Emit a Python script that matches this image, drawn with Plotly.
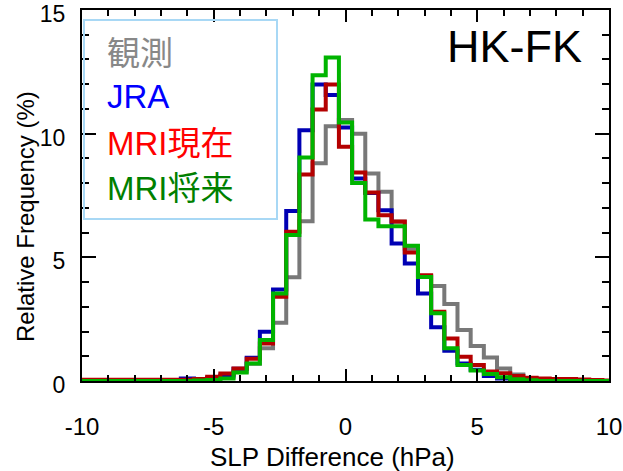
import plotly.graph_objects as go

# Bin centres (hPa)
slp_bins = [-10, -9.5, -9, -8.5, -8, -7.5, -7, -6.5, -6, -5.5, -5, -4.5, -4, -3.5, -3,
            -2.5, -2, -1.5, -1, -0.5, 0, 0.5, 1, 1.5, 2, 2.5, 3, 3.5, 4, 4.5, 5,
            5.5, 6, 6.5, 7, 7.5, 8, 8.5, 9, 9.5, 10]

obs = [0, 0, 0, 0, 0, 0, 0, 0, 0.02, 0.04, 0.08, 0.15, 0.38, 0.7, 1.32,
       2.36, 4.19, 6.46, 8.8, 10.3, 10.55, 10.0, 8.39, 7.65, 6.44, 5.35, 4.25, 3.84, 3.11, 2.06, 1.42,
       0.95, 0.51, 0.26, 0.12, 0.06, 0.03, 0, 0, 0, 0]

jra = [0, 0, 0, 0, 0, 0, 0, 0.02, 0.1, 0.05, 0.12, 0.22, 0.5, 0.94, 1.99,
       3.7, 6.87, 10.14, 11.99, 11.56, 10.25, 8.19, 7.6, 6.9, 5.56, 4.75, 3.54, 2.17, 1.22, 0.71, 0.45,
       0.2, 0.1, 0.05, 0.02, 0, 0, 0, 0, 0, 0]

mri_present = [0.05, 0.05, 0.05, 0.05, 0.05, 0.05, 0.05, 0.05, 0.05, 0.08, 0.17, 0.3, 0.51, 0.9, 1.52,
               3.41, 6.03, 8.35, 10.98, 11.99, 9.47, 8.43, 7.62, 6.7, 6.45, 5.2, 4.28, 2.8, 1.72, 0.98, 0.65,
               0.38, 0.31, 0.2, 0.13, 0.1, 0.08, 0.08, 0.06, 0.04, 0.02]

mri_future = [0, 0, 0, 0, 0, 0, 0, 0, 0, 0.02, 0.04, 0.1, 0.34, 0.71, 1.66,
              3.54, 5.9, 9.04, 12.36, 13.08, 10.45, 8.01, 6.53, 6.26, 6.26, 5.47, 4.21, 2.74, 1.32, 0.65, 0.42,
              0.28, 0.15, 0.07, 0.03, 0, 0, 0, 0, 0, 0]

series_names = ["観測", "JRA", "MRI現在", "MRI将来"]
line_colors = ["#787878", "#0000b4", "#b40000", "#00b400"]
text_colors = ["#888888", "#0000ff", "#ff0000", "#008000"]

x_ticks = [-10, -5, 0, 5, 10]
y_ticks = [0, 5, 10, 15]

FONT = "Liberation Sans, Arial, Noto Sans CJK JP"

# plot area in window pixels
L, R, T, B = 82, 609, 10, 381
W, H = R - L, B - T


def px(x):
    return (x - L) / W


def py(y):
    return (B - y) / H


fig = go.Figure()
for name, vals, col in zip(series_names, [obs, jra, mri_present, mri_future], line_colors):
    fig.add_trace(go.Scatter(x=slp_bins, y=vals, mode="lines", name=name,
                             line=dict(color=col, width=4, shape="hvh")))

fig.update_layout(
    width=623, height=471,
    margin=dict(l=L, r=623 - R, t=T, b=471 - B, autoexpand=False),
    paper_bgcolor="white", plot_bgcolor="white",
    showlegend=False,
    font=dict(family=FONT, size=24, color="black"),
    xaxis=dict(range=[-10, 10], tickvals=x_ticks, ticktext=[str(v) for v in x_ticks],
               ticks="inside", ticklen=12, tickwidth=1.5, tickcolor="black",
               minor=dict(dtick=1, ticks="inside", ticklen=6, tickwidth=1.5, tickcolor="black"),
               showline=True, linecolor="black", linewidth=2, mirror="allticks",
               showgrid=False, zeroline=False, ticklabelstandoff=23,
               ticklabeloverflow="allow", automargin=False,
               tickfont=dict(size=24)),
    yaxis=dict(range=[0, 15.001], tickvals=y_ticks, ticktext=[str(v) for v in y_ticks],
               ticks="inside", ticklen=14, tickwidth=1.5, tickcolor="black",
               minor=dict(dtick=1, ticks="inside", ticklen=7, tickwidth=1.5, tickcolor="black"),
               showline=True, linecolor="black", linewidth=2, mirror="allticks",
               showgrid=False, zeroline=False, ticklabelstandoff=10, ticklabelshift=4,
               ticklabeloverflow="allow", automargin=False,
               tickfont=dict(size=23)),
)

# Axis titles
fig.add_annotation(xref="paper", yref="paper", x=px(332), y=py(457),
                   xanchor="center", yanchor="middle", showarrow=False,
                   text="SLP Difference (hPa)", font=dict(size=26, color="black", family=FONT))
fig.add_annotation(xref="paper", yref="paper", x=px(25), y=py(217),
                   xanchor="center", yanchor="middle", showarrow=False, textangle=-90,
                   text="Relative Frequency (%)", font=dict(size=24, color="black", family=FONT))

# Legend box
fig.add_shape(type="rect", xref="paper", yref="paper",
              x0=px(84), x1=px(277), y0=py(219), y1=py(20),
              line=dict(color="#a8d8f5", width=2), fillcolor="rgba(0,0,0,0)")

legend_y = [53, 97, 143, 188]
for name, col, yy in zip(series_names, text_colors, legend_y):
    fig.add_annotation(xref="paper", yref="paper", x=px(105), y=py(yy),
                       xanchor="left", yanchor="middle", showarrow=False,
                       text=name, font=dict(size=33, color=col, family=FONT))

fig.add_annotation(xref="paper", yref="paper", x=px(584), y=py(46),
                   xanchor="right", yanchor="middle", showarrow=False,
                   text="HK-FK", font=dict(size=45, color="black", family=FONT))

# remove the browser's default page margin so the figure sits at the window origin
fig.write_html("out.html",
               config={"displayModeBar": False},
               post_script="document.body.style.margin='0px';document.body.style.overflow='hidden';")
